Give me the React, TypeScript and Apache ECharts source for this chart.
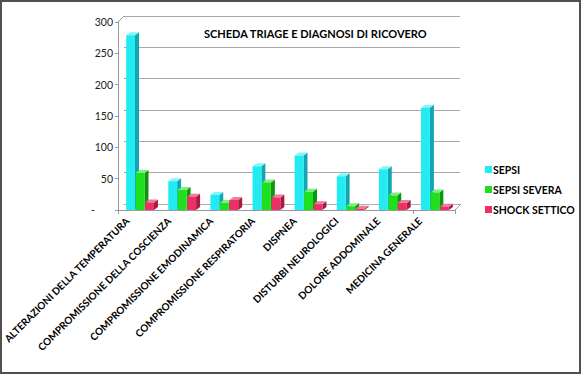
import React, { useEffect, useRef } from "react";
import * as echarts from "echarts";

const categories = [
  "ALTERAZIONI DELLA TEMPERATURA",
  "COMPROMISSIONE DELLA COSCIENZA",
  "COMPROMISSIONE EMODINAMICA",
  "COMPROMISSIONE RESPIRATORIA",
  "DISPNEA",
  "DISTURBI NEUROLOGICI",
  "DOLORE ADDOMINALE",
  "MEDICINA GENERALE",
];
const sepsi = [279, 46, 24, 70, 87, 54, 65, 163];
const sepsiSevera = [59, 32, 11, 44, 29, 6, 23, 28];
const shockSettico = [12, 21, 16, 20, 9, 2, 11, 5];
const yTicks = [0, 50, 100, 150, 200, 250, 300];
const seriesNames = ["SEPSI", "SEPSI SEVERA", "SHOCK SETTICO"];

const palette = [
  { front: "#22ECF2", side: "#12A6B2", top: "#7FF6F8" },
  { front: "#1EE01E", side: "#0E960E", top: "#7CF07C" },
  { front: "#EC2F64", side: "#A61A45", top: "#F27A9C" },
];

const FONT = "Lato";

function makeSeries(name: string, values: number[], k: number) {
  const offset = k - 1;
  const c = palette[k];
  return {
    name,
    type: "custom",
    xAxisIndex: 0,
    yAxisIndex: 0,
    itemStyle: { color: c.front },
    encode: { x: 0, y: 1 },
    data: values.map((v, i) => [i, v]),
    renderItem: (params: any, api: any) => {
      const idx = api.value(0);
      const val = api.value(1);
      const base = api.coord([idx, 0]);
      const top = api.coord([idx, val]);
      const catW = api.size([1, 0])[0];
      const w = catW * 0.21;
      const cx = base[0] + 1 + offset * catW * 0.225;
      const x0 = cx - w / 2;
      const x1 = cx + w / 2;
      const d = 4;
      const dy = 3;
      return {
        type: "group",
        children: [
          {
            type: "polygon",
            shape: { points: [[x1, top[1]], [x1 + d, top[1] - dy], [x1 + d, base[1] - dy], [x1, base[1]]] },
            style: { fill: c.side },
          },
          {
            type: "polygon",
            shape: { points: [[x0, top[1]], [x0 + d, top[1] - dy], [x1 + d, top[1] - dy], [x1, top[1]]] },
            style: { fill: c.top },
          },
          {
            type: "rect",
            shape: { x: x0, y: top[1], width: w, height: base[1] - top[1] },
            style: { fill: c.front },
          },
        ],
      };
    },
  };
}

export default function App() {
  const ref = useRef<HTMLDivElement>(null);
  useEffect(() => {
    document.body.style.margin = "0";
    const chart = echarts.init(ref.current!, null, { renderer: "svg" });
    const yMin = yTicks[0];
    const yMax = yTicks[yTicks.length - 1];
    const interval = yTicks[1] - yTicks[0];
    chart.setOption({
      animation: false,
      backgroundColor: "#ffffff",
      textStyle: { fontFamily: FONT },
      title: {
        text: "SCHEDA TRIAGE E DIAGNOSI DI RICOVERO",
        left: 199,
        top: 23,
        textStyle: { fontFamily: FONT, fontSize: 11, fontWeight: "bold", color: "#000" },
      },
      legend: {
        orient: "vertical",
        left: 480,
        top: 159,
        itemGap: 9,
        itemWidth: 7,
        itemHeight: 7,
        icon: "rect",
        data: seriesNames,
        textStyle: { fontFamily: FONT, fontSize: 10.5, fontWeight: "bold", color: "#000", padding: [0, 0, 0, -4] },
      },
      grid: [
        { left: 118, right: 127, top: 22, bottom: 165 },
        { left: 124, right: 122, top: 16, bottom: 171 },
        { left: 104, right: 141, top: 22, bottom: 165 },
      ],
      xAxis: [
        {
          type: "category",
          gridIndex: 0,
          data: categories,
          axisLine: { show: true, lineStyle: { color: "#9a9a9a", width: 1 } },
          axisTick: { show: true, length: 4, lineStyle: { color: "#9a9a9a" } },
          axisLabel: { show: false },
        },
        {
          type: "category",
          gridIndex: 1,
          data: categories,
          axisLine: { show: true, lineStyle: { color: "#b0b0b0", width: 1 } },
          axisTick: { show: false },
          axisLabel: { show: false },
        },
        {
          type: "category",
          gridIndex: 2,
          data: categories,
          axisLine: { show: false },
          axisTick: { show: false },
          axisLabel: {
            show: true,
            rotate: 45,
            margin: 9,
            interval: 0,
            fontFamily: FONT,
            fontSize: 10,
            fontWeight: "bold",
            color: "#000",
          },
        },
      ],
      yAxis: [
        {
          type: "value",
          gridIndex: 0,
          min: yMin,
          max: yMax,
          interval,
          splitLine: { show: false },
          axisLine: { show: true, lineStyle: { color: "#9a9a9a" } },
          axisTick: { show: true, length: 3, lineStyle: { color: "#9a9a9a" } },
          axisLabel: {
            margin: 5,
            fontFamily: FONT,
            fontSize: 10.5,
            color: "#222",
            formatter: (v: number) => (v === 0 ? "{d|-}" : String(v)),
            rich: { d: { fontFamily: FONT, fontSize: 10.5, color: "#222", padding: [0, 18, 0, 0] } },
          },
        },
        {
          type: "value",
          gridIndex: 1,
          min: yMin,
          max: yMax,
          interval,
          splitLine: { show: true, lineStyle: { color: "#a8a8a8", width: 1 } },
          axisLine: { show: false },
          axisTick: { show: false },
          axisLabel: { show: false },
        },
        {
          type: "value",
          gridIndex: 2,
          min: yMin,
          max: yMax,
          show: false,
        },
      ],
      graphic: [
        {
          type: "rect",
          shape: { x: 1, y: 1, width: 579, height: 372 },
          style: { fill: "none", stroke: "#505050", lineWidth: 2 },
          silent: true,
        },
        {
          type: "line",
          shape: { x1: 118, y1: 22, x2: 124, y2: 16 },
          style: { stroke: "#9a9a9a", lineWidth: 1 },
        },
        {
          type: "line",
          shape: { x1: 455, y1: 210, x2: 461, y2: 204 },
          style: { stroke: "#9a9a9a", lineWidth: 1 },
        },
      ],
      series: [
        makeSeries(seriesNames[0], sepsi, 0),
        makeSeries(seriesNames[1], sepsiSevera, 1),
        makeSeries(seriesNames[2], shockSettico, 2),
      ],
    });
    return () => chart.dispose();
  }, []);
  return <div ref={ref} style={{ position: "absolute", left: 0, top: 0, width: 582, height: 375 }} />;
}
